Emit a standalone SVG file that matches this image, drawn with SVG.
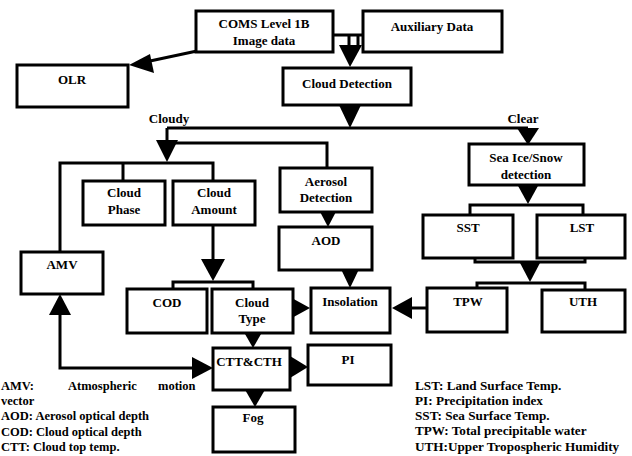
<svg xmlns="http://www.w3.org/2000/svg" width="632" height="456" viewBox="0 0 632 456">
  <style>
    .box { fill: #fff; stroke: #000; stroke-width: 3; }
    .ln { fill: none; stroke: #000; stroke-width: 3; }
    .ah { fill: #000; stroke: none; }
    text { font-family: 'Liberation Serif', 'DejaVu Serif', serif; font-weight: bold; fill: #000; }
    .t { font-size: 13px; text-anchor: middle; }
    .lg { font-size: 12.5px; }
    .lgr { font-size: 13.2px; }
  </style>
  <rect width="632" height="456" fill="#fff"/>

  <!-- connectors -->
  <g id="connectors">
    <!-- inputs to cloud detection -->
    <path class="ln" d="M333 35 H363 M349 35 V46 M358 35 V46"/>
    <polygon class="ah" points="339,45 362,45 350,67"/>
    <!-- level 1B to OLR -->
    <path class="ln" d="M197 51 L150 61"/>
    <polygon class="ah" points="129,65 150,54 154,73"/>
    <!-- cloudy / clear split -->
    <polygon class="ah" points="339,105 361,105 350,128"/>
    <path class="ln" d="M167 128 H528 M167 128 V142 M167 143 H327 V168"/>
    <polygon class="ah" points="156,140 178,140 167,162"/>
    <path class="ln" d="M60 252 V163 H213 V181 M123 163 V181"/>
    <polygon class="ah" points="517,128 539,128 528,145"/>
    <!-- clear branch -->
    <polygon class="ah" points="517,184 539,184 528,204"/>
    <path class="ln" d="M470 215 V205 H583 V215"/>
    <path class="ln" d="M475 258 V262 H585 V258"/>
    <polygon class="ah" points="519,261 541,261 530,282"/>
    <path class="ln" d="M477 288 V283 H585 V290"/>
    <path class="ln" d="M427 308 H410"/>
    <polygon class="ah" points="392,308 412,297 412,319"/>
    <!-- aerosol chain -->
    <polygon class="ah" points="317,206 339,206 328,227"/>
    <polygon class="ah" points="339,265 361,265 350,288"/>
    <!-- cloud amount to COD / cloud type -->
    <path class="ln" d="M213 225 V262"/>
    <polygon class="ah" points="201,259 225,259 213,281"/>
    <path class="ln" d="M173 289 V282 H253 V289"/>
    <polygon class="ah" points="310,308 290,297 290,319"/>
    <polygon class="ah" points="241,327 265,327 253,348"/>
    <polygon class="ah" points="308,367 290,356 290,378"/>
    <polygon class="ah" points="244,388 266,388 255,407"/>
    <!-- AMV and CTT&CTH -->
    <path class="ln" d="M60 314 V368 H194"/>
    <polygon class="ah" points="49,315 71,315 60,294"/>
    <polygon class="ah" points="213,368 192,357 192,379"/>
  </g>

  <g id="coms">
    <rect class="box" x="196" y="11" width="137" height="41"/>
    <text class="t" x="264" y="28">COMS Level 1B</text>
    <text class="t" x="264" y="45">Image data</text>
  </g>
  <g id="auxiliary">
    <rect class="box" x="363" y="11" width="139" height="41"/>
    <text class="t" x="432" y="31">Auxiliary Data</text>
  </g>
  <g id="olr">
    <rect class="box" x="17" y="65" width="111" height="42"/>
    <text class="t" x="72" y="84">OLR</text>
  </g>
  <g id="cloud-detection">
    <rect class="box" x="283" y="68" width="128" height="37"/>
    <text class="t" x="347" y="88">Cloud Detection</text>
  </g>
  <g id="branch-labels">
    <text class="t" x="169" y="123">Cloudy</text>
    <text class="t" x="523" y="123">Clear</text>
  </g>
  <g id="cloud-phase">
    <rect class="box" x="83" y="181" width="82" height="44"/>
    <text class="t" x="124" y="197">Cloud</text>
    <text class="t" x="124" y="214">Phase</text>
  </g>
  <g id="cloud-amount">
    <rect class="box" x="173" y="181" width="82" height="44"/>
    <text class="t" x="214" y="197">Cloud</text>
    <text class="t" x="214" y="214">Amount</text>
  </g>
  <g id="aerosol-detection">
    <rect class="box" x="280" y="168" width="92" height="44"/>
    <text class="t" x="326" y="186">Aerosol</text>
    <text class="t" x="326" y="202">Detection</text>
  </g>
  <g id="sea-ice">
    <rect class="box" x="469" y="144" width="115" height="41"/>
    <text class="t" x="526" y="162">Sea Ice/Snow</text>
    <text class="t" x="526" y="179">detection</text>
  </g>
  <g id="amv">
    <rect class="box" x="21" y="252" width="82" height="42"/>
    <text class="t" x="62" y="269">AMV</text>
  </g>
  <g id="aod">
    <rect class="box" x="279" y="227" width="93" height="43"/>
    <text class="t" x="326" y="245">AOD</text>
  </g>
  <g id="sst">
    <rect class="box" x="423" y="215" width="90" height="43"/>
    <text class="t" x="468" y="232">SST</text>
  </g>
  <g id="lst">
    <rect class="box" x="537" y="215" width="88" height="43"/>
    <text class="t" x="582" y="232">LST</text>
  </g>
  <g id="cod">
    <rect class="box" x="127" y="289" width="80" height="44"/>
    <text class="t" x="167" y="307">COD</text>
  </g>
  <g id="cloud-type">
    <rect class="box" x="212" y="289" width="81" height="44"/>
    <text class="t" x="252" y="307">Cloud</text>
    <text class="t" x="252" y="323">Type</text>
  </g>
  <g id="insolation">
    <rect class="box" x="311" y="288" width="79" height="45"/>
    <text class="t" x="350" y="306">Insolation</text>
  </g>
  <g id="tpw">
    <rect class="box" x="427" y="288" width="80" height="44"/>
    <text class="t" x="468" y="306">TPW</text>
  </g>
  <g id="uth">
    <rect class="box" x="542" y="290" width="83" height="42"/>
    <text class="t" x="583" y="306">UTH</text>
  </g>
  <g id="ctt-cth">
    <rect class="box" x="213" y="348" width="77" height="42"/>
    <text class="t" x="249" y="366">CTT&amp;CTH</text>
  </g>
  <g id="pi">
    <rect class="box" x="308" y="345" width="83" height="40"/>
    <text class="t" x="348" y="364">PI</text>
  </g>
  <g id="fog">
    <rect class="box" x="213" y="407" width="82" height="45"/>
    <text class="t" x="253" y="422">Fog</text>
  </g>

  <g id="legend-left">
    <text class="lg" y="390"><tspan x="1">AMV:</tspan><tspan x="68">Atmospheric</tspan><tspan x="158">motion</tspan></text>
    <text class="lg" x="1" y="405">vector</text>
    <text class="lg" x="1" y="420">AOD: Aerosol optical depth</text>
    <text class="lg" x="1" y="436">COD: Cloud optical depth</text>
    <text class="lg" x="1" y="451">CTT: Cloud top temp.</text>
  </g>
  <g id="legend-right">
    <text class="lgr" x="415" y="390">LST: Land Surface Temp.</text>
    <text class="lgr" x="415" y="405">PI: Precipitation index</text>
    <text class="lgr" x="415" y="420">SST: Sea Surface Temp.</text>
    <text class="lgr" x="415" y="435">TPW: Total precipitable water</text>
    <text class="lgr" x="415" y="451">UTH:Upper Tropospheric Humidity</text>
  </g>
</svg>
